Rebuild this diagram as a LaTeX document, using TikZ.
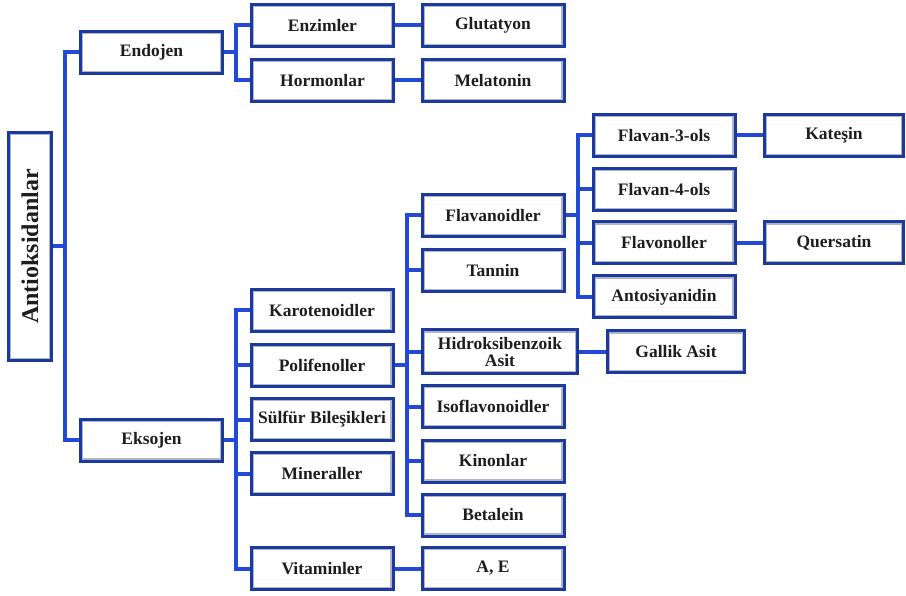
\documentclass[tikz,border=0pt]{standalone}
\usepackage{fontspec}
\setmainfont{Liberation Serif}
\definecolor{boxblue}{HTML}{1C3A9E}
\definecolor{linkblue}{HTML}{2448D8}
\definecolor{boxgray}{HTML}{B0B4C4}
\definecolor{txt}{HTML}{1E1E1E}
\begin{document}
\begin{tikzpicture}[x=1pt,y=-1pt,
 box/.style={draw=boxblue, line width=3pt, fill=white, minimum width=142pt, minimum height=42pt,
   inner sep=0pt, font=\fontsize{17.5}{17}\selectfont\bfseries, text=txt, align=center,
   path picture={\draw[boxgray,line width=5.5pt] (path picture bounding box.south west) rectangle (path picture bounding box.north east);}},
 conn/.style={draw=linkblue, line width=4pt}]
\useasboundingbox (0,0) rectangle (906,596);
% nodes
\node[box, rotate=90, minimum width=228pt, minimum height=43pt, font=\fontsize{24}{25}\selectfont\bfseries] (root) at (30,246.5) {Antioksidanlar};
\node[box] (endo) at (151.5,52.5) {Endojen};
\node[box] (ekso) at (151.5,440) {Eksojen};
\node[box] (enz) at (322.5,25.5) {Enzimler};
\node[box] (horm) at (322.5,80.5) {Hormonlar};
\node[box] (glut) at (493,25.5) {Glutatyon};
\node[box] (mela) at (493,80.5) {Melatonin};
\node[box] (karo) at (322,310.5) {Karotenoidler};
\node[box] (poli) at (322,365.5) {Polifenoller};
\node[box] (sulf) at (322,419.5) {Sülfür Bileşikleri};
\node[box] (mine) at (322,473.5) {Mineraller};
\node[box] (vita) at (322,568.5) {Vitaminler};
\node[box] (flav) at (493,215.5) {Flavanoidler};
\node[box] (tann) at (493,270.5) {Tannin};
\node[box, minimum width=155pt, minimum height=44pt] (hidr) at (500,352) {Hidroksibenzoik\\Asit};
\node[box] (iso) at (493,406.5) {Isoflavonoidler};
\node[box] (kin) at (493,461) {Kinonlar};
\node[box] (beta) at (493,515) {Betalein};
\node[box] (ae) at (493,568.5) {A, E};
\node[box, minimum width=137pt] (gall) at (676,352) {Gallik Asit};
\node[box] (f3) at (664,135.5) {Flavan-3-ols};
\node[box] (f4) at (664,189.5) {Flavan-4-ols};
\node[box] (fvon) at (664,243) {Flavonoller};
\node[box] (anto) at (664,297) {Antosiyanidin};
\node[box, minimum width=139pt] (kat) at (834,135.5) {Kateşin};
\node[box, minimum width=139pt] (quer) at (834,243) {Quersatin};
% bus coordinates
\coordinate (b1) at (65,0);
\coordinate (b2) at (236,0);
\coordinate (b3) at (407,0);
\coordinate (b4) at (578,0);
% connectors
\draw[conn] (endo.west) -| (root.south -| b1) |- (ekso.west);
\draw[conn] (root.south) -- (root.south -| b1);
\draw[conn] (enz.west) -| (endo.east -| b2) |- (horm.west);
\draw[conn] (endo.east) -- (endo.east -| b2);
\draw[conn] (enz.east) -- (glut.west);
\draw[conn] (horm.east) -- (mela.west);
\draw[conn] (karo.west) -| (ekso.east -| b2) |- (vita.west);
\draw[conn] (ekso.east) -- (ekso.east -| b2);
\draw[conn] (poli.west) -- (poli.west -| b2);
\draw[conn] (sulf.west) -- (sulf.west -| b2);
\draw[conn] (mine.west) -- (mine.west -| b2);
\draw[conn] (vita.east) -- (ae.west);
\draw[conn] (flav.west) -| (poli.east -| b3) |- (beta.west);
\draw[conn] (poli.east) -- (poli.east -| b3);
\draw[conn] (tann.west) -- (tann.west -| b3);
\draw[conn] (hidr.west) -- (hidr.west -| b3);
\draw[conn] (iso.west) -- (iso.west -| b3);
\draw[conn] (kin.west) -- (kin.west -| b3);
\draw[conn] (hidr.east) -- (gall.west);
\draw[conn] (f3.west) -| (flav.east -| b4) |- (anto.west);
\draw[conn] (flav.east) -- (flav.east -| b4);
\draw[conn] (f4.west) -- (f4.west -| b4);
\draw[conn] (fvon.west) -- (fvon.west -| b4);
\draw[conn] (f3.east) -- (kat.west);
\draw[conn] (fvon.east) -- (quer.west);
\end{tikzpicture}
\end{document}
